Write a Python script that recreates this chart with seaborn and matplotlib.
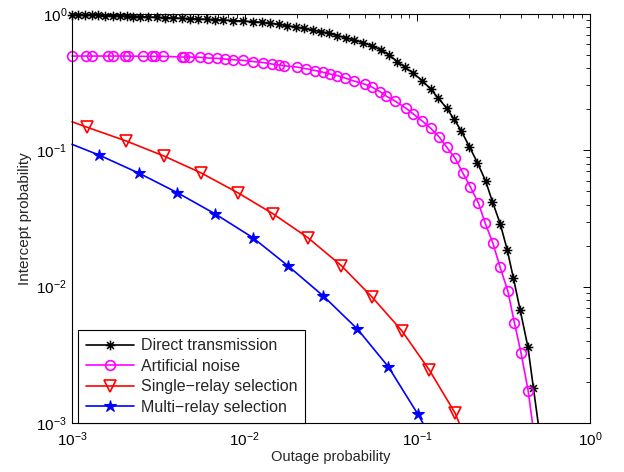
import matplotlib
matplotlib.use("Agg")
import matplotlib.pyplot as plt
import seaborn as sns
import numpy as np
from matplotlib.path import Path

# Direct transmission (black asterisks), last point = where the line meets the x axis
direct_x = [0.001, 0.001088, 0.001189, 0.001300, 0.001420, 0.001553, 0.001735, 0.001897, 0.002075, 0.002266,
            0.002477, 0.002768, 0.003096, 0.003459, 0.003863, 0.004320, 0.004828, 0.005393, 0.006031, 0.006738,
            0.007526, 0.008601, 0.009829, 0.01114, 0.01256, 0.01404, 0.01589, 0.01768, 0.01985, 0.02209,
            0.02481, 0.02760, 0.03095, 0.03444, 0.03867, 0.04303, 0.04833, 0.05450, 0.06145, 0.06894,
            0.07668, 0.08501, 0.09493, 0.1070, 0.1197, 0.1325, 0.1482, 0.1634, 0.1794, 0.2004,
            0.2229, 0.2487, 0.2723, 0.3018, 0.3313, 0.3604, 0.3941, 0.4368, 0.4706, 0.501]
direct_y = [0.9832, 0.9832, 0.9832, 0.9799, 0.9783, 0.9750, 0.9717, 0.9668, 0.9635, 0.9587,
            0.9554, 0.9506, 0.9458, 0.9394, 0.9347, 0.9300, 0.9237, 0.9190, 0.9144, 0.9082,
            0.9036, 0.8960, 0.8885, 0.8780, 0.8692, 0.8546, 0.8403, 0.8207, 0.8027, 0.7853,
            0.7632, 0.7418, 0.7220, 0.6933, 0.6703, 0.6448, 0.6160, 0.5855, 0.5444, 0.5004,
            0.4467, 0.4064, 0.3672, 0.3241, 0.2803, 0.2407, 0.2033, 0.1689, 0.1392, 0.1063,
            0.0811, 0.0595, 0.04197, 0.02904, 0.01872, 0.01150, 0.006735, 0.003623, 0.001794, 0.001]

# Artificial noise (magenta circles)
noise_x = [0.001, 0.001205, 0.001300, 0.001623, 0.001721, 0.002028, 0.002119, 0.002589, 0.002896, 0.003026,
           0.003381, 0.004320, 0.004456, 0.004782, 0.005517, 0.006164, 0.006894, 0.007699, 0.008601, 0.009829,
           0.01114, 0.01283, 0.01436, 0.01589, 0.01692, 0.02003, 0.02269, 0.02558, 0.02858, 0.03125,
           0.03444, 0.03816, 0.04303, 0.04984, 0.05450, 0.06088, 0.06596, 0.07437, 0.08611, 0.09493,
           0.1062, 0.1197, 0.1343, 0.1482, 0.1656, 0.1835, 0.2031, 0.2259, 0.2471, 0.2738,
           0.3018, 0.3344, 0.3648, 0.3983, 0.4385, 0.4645]
noise_y = [0.4917, 0.4917, 0.4917, 0.4917, 0.4917, 0.4917, 0.4917, 0.4892, 0.4892, 0.4892,
           0.4892, 0.4835, 0.4835, 0.4835, 0.4811, 0.4754, 0.4730, 0.4675, 0.4620, 0.4573,
           0.4481, 0.4406, 0.4296, 0.4224, 0.4174, 0.4085, 0.3969, 0.3850, 0.3734, 0.3628,
           0.3537, 0.3391, 0.3224, 0.3049, 0.2913, 0.2692, 0.2503, 0.2299, 0.2033, 0.1846,
           0.1649, 0.1450, 0.1246, 0.1052, 0.08738, 0.06817, 0.05379, 0.04106, 0.02928, 0.02089,
           0.01385, 0.009284, 0.005452, 0.003285, 0.001722, 0.001]

# Single-relay selection (red triangles), first/last point = axis crossings
single_x = [0.001, 0.001226, 0.002047, 0.003412, 0.005569, 0.009120, 0.01467, 0.02321, 0.03619,
            0.05450, 0.08131, 0.1175, 0.1656, 0.1746]
single_y = [0.162, 0.1475, 0.1175, 0.0908, 0.0685, 0.0489, 0.0341, 0.0229, 0.0143,
            0.00843, 0.00475, 0.00244, 0.00118, 0.001]

# Multi-relay selection (blue stars)
multi_x = [0.001, 0.001433, 0.002454, 0.004075, 0.006765, 0.01114, 0.01784, 0.02858,
           0.04498, 0.06801, 0.1007, 0.1076]
multi_y = [0.1107, 0.0924, 0.0678, 0.0489, 0.0341, 0.0229, 0.0142, 0.00853,
           0.00489, 0.00258, 0.00116, 0.001]

# MATLAB-like asterisk marker built from line segments
verts, codes = [], []
for a in np.deg2rad([90, 0, 45, -45]):
    verts += [(np.cos(a), np.sin(a)), (-np.cos(a), -np.sin(a))]
    codes += [Path.MOVETO, Path.LINETO]
asterisk = Path(verts, codes)

sns.set_theme(style="white")
plt.rcParams['font.family'] = ['Liberation Sans', 'DejaVu Sans']
plt.rcParams['mathtext.default'] = 'regular'

fig = plt.figure(figsize=(6.24, 4.72), dpi=100)
ax = fig.add_axes([0.1154, 0.1038, 0.8301, 0.8665])

sns.lineplot(x=direct_x, y=direct_y, ax=ax, color='black', lw=1.2, marker=asterisk, ms=7, mew=1.1,
             mec='black', markevery=slice(0, -1), estimator=None, sort=False,
             label='Direct transmission', clip_on=False)
sns.lineplot(x=noise_x, y=noise_y, ax=ax, color='#ff00ff', lw=1.2, marker='o', ms=7, mfc='none',
             mec='#ff00ff', mew=1.2, markevery=slice(0, -1), estimator=None, sort=False,
             label='Artificial noise', clip_on=False)
sns.lineplot(x=single_x, y=single_y, ax=ax, color='#ff0000', lw=1.2, marker='v', ms=8, mfc='none',
             mec='#ff0000', mew=1.2, markevery=slice(1, -1), estimator=None, sort=False,
             label='Single\u2212relay selection', clip_on=False)
sns.lineplot(x=multi_x, y=multi_y, ax=ax, color='#0000ff', lw=1.2, marker='*', ms=9, mfc='#0000ff',
             mec='#0000ff', mew=0.8, markevery=slice(1, -1), estimator=None, sort=False,
             label='Multi\u2212relay selection', clip_on=False)

ax.set_xscale('log')
ax.set_yscale('log')
ax.set_xlim(1e-3, 1)
ax.set_ylim(1e-3, 1)
for s in ax.spines.values():
    s.set_color('black')
    s.set_linewidth(0.8)
ax.tick_params(which='both', direction='in', top=True, right=True, colors='black', labelsize=11)
ax.tick_params(which='major', length=5, width=0.7)
ax.tick_params(which='minor', length=3, width=0.6)
ax.tick_params(axis='x', which='major', pad=5)
ax.set_xlabel('Outage probability', fontsize=10.5, labelpad=1)
ax.set_ylabel('Intercept probability', fontsize=11, labelpad=3)

leg = ax.legend(loc='lower left', bbox_to_anchor=(0.012, 0.0), borderaxespad=0, fancybox=False,
                edgecolor='black', framealpha=1, fontsize=11.5, handlelength=3.0, handletextpad=0.4,
                labelspacing=0.35, borderpad=0.5)
leg.get_frame().set_linewidth(0.8)

fig.savefig('out.png', dpi=100)
